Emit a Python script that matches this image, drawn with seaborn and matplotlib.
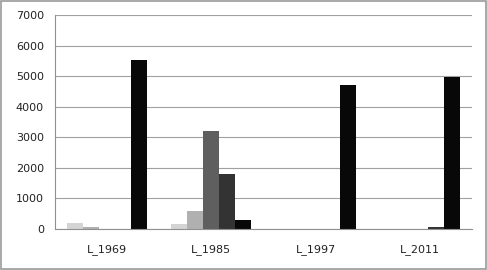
import pandas as pd
import seaborn as sns
import matplotlib.pyplot as plt
from matplotlib.ticker import FixedLocator

# Data
groups = ["L_1969", "L_1985", "L_1997", "L_2011"]
series = ["S1", "S2", "S3", "S4", "S5"]
s1 = [180, 160, 15, 0]
s2 = [80, 600, 0, 15]
s3 = [0, 3220, 0, 0]
s4 = [0, 1800, 0, 60]
s5 = [5520, 300, 4700, 4980]
colors = ["#d4d4d4", "#b0b0b0", "#5f5f5f", "#333333", "#080808"]

rows = []
for name, vals in zip(series, [s1, s2, s3, s4, s5]):
    for g, v in zip(groups, vals):
        rows.append({"group": g, "series": name, "value": v})
data = pd.DataFrame(rows)

sns.set_style("white")
fig = plt.figure(figsize=(4.87, 2.70), dpi=100)
ax = fig.add_axes([0.113, 0.152, 0.856, 0.792])

sns.barplot(data=data, x="group", y="value", hue="series", palette=colors,
            width=0.77, saturation=1, linewidth=0, ax=ax, legend=False)

ax.set_ylim(0, 7000)
ax.set_yticks(range(0, 7001, 1000))
ax.set_xlim(-0.5, 3.5)
ax.yaxis.grid(True, color="#a0a0a0", linewidth=0.8)
ax.set_axisbelow(True)
ax.set_xlabel("")
ax.set_ylabel("")
for s in ["top", "right"]:
    ax.spines[s].set_visible(False)
ax.spines["left"].set_color("#909090")
ax.spines["bottom"].set_color("#909090")
ax.tick_params(axis="y", length=0, labelsize=8, colors="#222222", pad=8)
ax.tick_params(axis="x", length=0, labelsize=8, colors="#222222", pad=11)
ax.xaxis.set_minor_locator(FixedLocator([-0.5, 0.5, 1.5, 2.5, 3.5]))
ax.tick_params(axis="x", which="minor", length=4, color="#909090", direction="out")

# Outer border
fig.patches.append(plt.Rectangle((0.002, 0.004), 0.995, 0.992, transform=fig.transFigure,
                                 fill=False, edgecolor="#999999", linewidth=1.2))

plt.savefig("out.png", dpi=100)
